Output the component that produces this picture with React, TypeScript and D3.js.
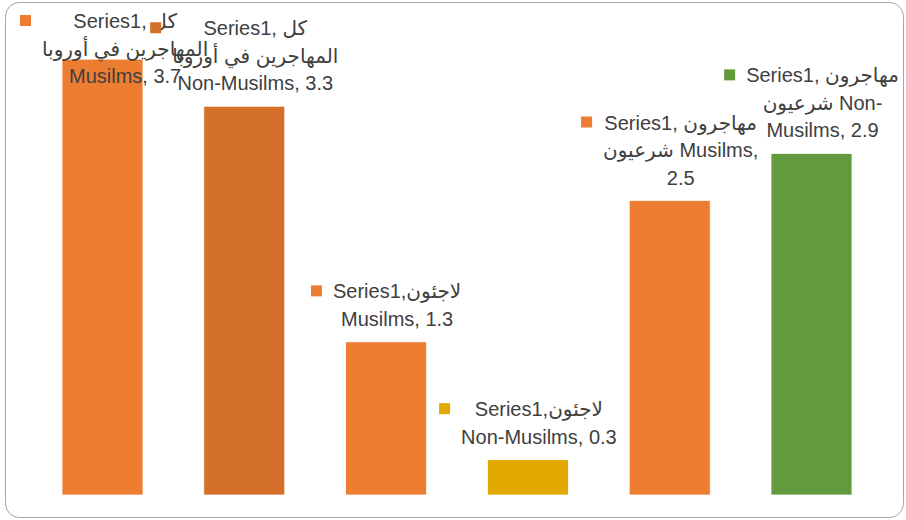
import { useEffect, useRef } from 'react';
import * as d3 from 'd3';

// categories (Arabic group + religion), one bar each
const categories = [
  'كل المهاجرين في أوروبا Musilms',
  'كل المهاجرين في أوروبا Non-Musilms',
  'لاجئون Musilms',
  'لاجئون Non-Musilms',
  'مهاجرون شرعيون Musilms',
  'مهاجرون شرعيون Non-Musilms',
];
const values = [3.7, 3.3, 1.3, 0.3, 2.5, 2.9];
const barColors = ['#ED7D31', '#D46F2A', '#ED7D31', '#E2AA00', '#ED7D31', '#629A3E'];

// data labels, wrapped as in the source
const labelLines = [
  ['Series1, كل', 'المهاجرين في أوروبا', 'Musilms, 3.7'],
  ['Series1, كل', 'المهاجرين في أوروبا', 'Non-Musilms, 3.3'],
  ['Series1,لاجئون', 'Musilms, 1.3'],
  ['Series1,لاجئون', 'Non-Musilms, 0.3'],
  ['Series1, مهاجرون', 'شرعيون  Musilms,', '2.5'],
  ['Series1, مهاجرون', 'شرعيون  Non-', 'Musilms, 2.9'],
];

const W = 906;
const H = 520;
const FONT = '"Liberation Sans", "DejaVu Sans", sans-serif';

export default function App() {
  const svgRef = useRef<SVGSVGElement>(null);

  useEffect(() => {
    if (!svgRef.current) return;
    const svg = d3.select(svgRef.current);
    svg.selectAll('*').remove();

    svg
      .append('rect')
      .attr('x', 5.5)
      .attr('y', 2.5)
      .attr('width', W - 8)
      .attr('height', H - 5)
      .attr('rx', 14)
      .attr('fill', '#fff')
      .attr('stroke', '#a6a6a6')
      .attr('stroke-width', 1);

    const xScale = d3
      .scaleBand<string>()
      .domain(categories)
      .range([31.6, 882.4])
      .paddingInner(0.429)
      .paddingOuter(0.2145);
    const yScale = d3.scaleLinear().domain([0, 4]).range([495, 23.8]);

    svg
      .append('g')
      .selectAll('rect')
      .data(values)
      .join('rect')
      .attr('x', (_, i) => xScale(categories[i])!)
      .attr('y', (d) => yScale(d))
      .attr('width', xScale.bandwidth())
      .attr('height', (d) => yScale(0) - yScale(d))
      .attr('fill', (_, i) => barColors[i])
      .attr('stroke', '#fff')
      .attr('stroke-width', 0.75);

    const lineH = 27.5;
    const keySize = 11;
    const keyGap = 11;

    labelLines.forEach((lines, i) => {
      const g = svg.append('g');
      const texts = lines.map((t) =>
        g
          .append('text')
          .attr('font-family', FONT)
          .attr('font-size', 20)
          .attr('fill', '#404040')
          .attr('text-anchor', 'middle')
          .text(t)
      );
      const colW = d3.max(texts, (t) => (t.node() as SVGTextElement).getComputedTextLength()) || 0;
      const blockW = keySize + keyGap + colW;
      const cx = xScale(categories[i])! + xScale.bandwidth() / 2;
      const left = Math.max(cx - blockW / 2, 20);
      const textCx = left + keySize + keyGap + colW / 2;

      let firstBase = yScale(values[i]) - 16 - (lines.length - 1) * lineH;
      if (firstBase < 28) firstBase = 28;

      texts.forEach((t, j) => t.attr('x', textCx).attr('y', firstBase + j * lineH));

      g.append('rect')
        .attr('x', left)
        .attr('y', firstBase - 13)
        .attr('width', keySize)
        .attr('height', keySize)
        .attr('fill', barColors[i]);
    });
  }, []);

  return <svg ref={svgRef} width={W} height={H} style={{ position: 'absolute', left: 0, top: 0 }} />;
}
